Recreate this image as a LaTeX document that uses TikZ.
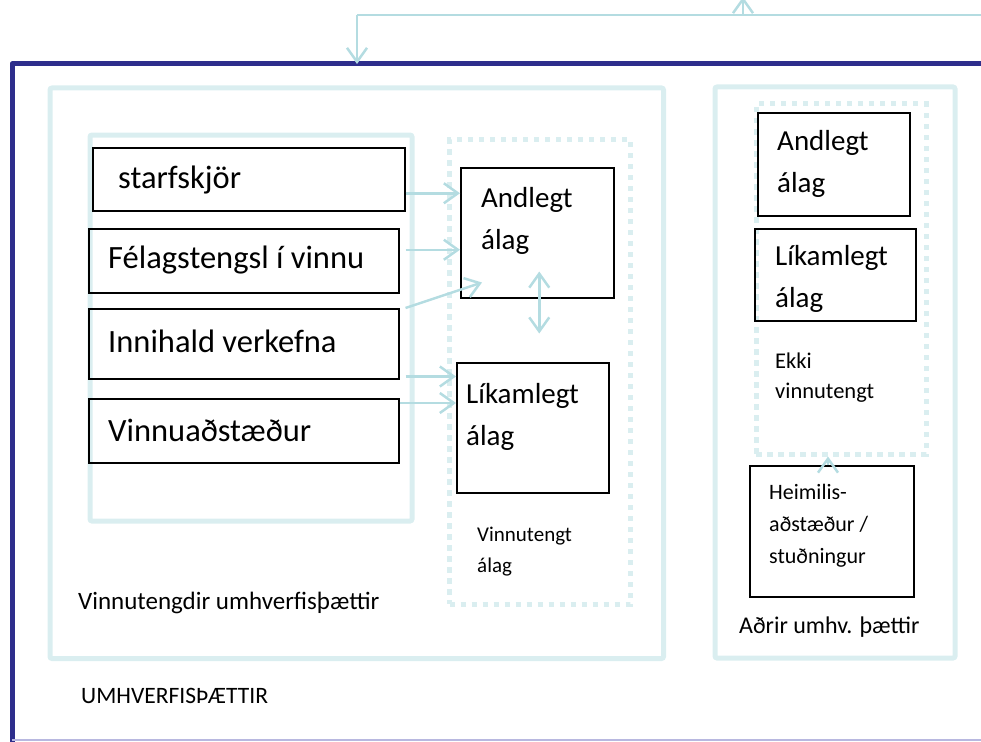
\documentclass[tikz,border=0pt]{standalone}
\usepackage{fontspec}
\setmainfont{Carlito}
\usetikzlibrary{arrows.meta,calc}
\definecolor{frameblue}{HTML}{2E2E8C}
\definecolor{lightbox}{HTML}{DAEEF0}
\definecolor{arrowc}{HTML}{B4DCE1}
\definecolor{lav}{HTML}{B8B8E0}
\begin{document}
\begin{tikzpicture}[x=1pt,y=-1pt,
  bbox/.style={draw=black, line width=1.5pt, anchor=north west, inner sep=0pt},
  cont/.style={draw=lightbox, line width=5pt, anchor=north west, inner sep=0pt, rounded corners=2pt},
  dotbox/.style={draw=lightbox, line width=5pt, dash pattern=on 5.5pt off 5.5pt, anchor=north west, inner sep=0pt},
  lab/.style={font=\fontsize{32.5}{42}\selectfont, align=left, anchor=west, inner sep=0pt},
  big/.style={font=\fontsize{29}{42}\selectfont, align=left, anchor=west, inner sep=0pt},
  small/.style={font=\fontsize{21}{31}\selectfont, align=left, anchor=west, inner sep=0pt},
  arr/.style={draw=arrowc, line width=2.5pt, -{Straight Barb[length=14pt,width=20pt]}},
  darr/.style={draw=arrowc, line width=2.5pt, {Straight Barb[length=14pt,width=20pt]}-{Straight Barb[length=14pt,width=20pt]}}
]
\useasboundingbox (0,0) rectangle (981,741);
\clip (0,0) rectangle (981,741);

% outer frame
\coordinate (fbl) at (12,745);
\coordinate (ftl) at (12,64);
\coordinate (ftr) at (995,64);
\coordinate (fbr) at (995,740);
\coordinate (fblb) at (12,740);
\draw[frameblue, line width=5pt, line join=round] (fbl) -- (ftl) -- (ftr);
\draw[lav, line width=1.5pt] (fblb) -- (fbr);

% containers
\node[cont, minimum width=613.5pt, minimum height=570.5pt] (cL) at (47.5,85.5) {};
\node[cont, minimum width=322pt, minimum height=386pt] (cI) at (87.5,132.5) {};
\node[dotbox, minimum width=181pt, minimum height=464.5pt] (dL) at (447,137) {};
\node[cont, minimum width=240pt, minimum height=571pt] (cR) at (712.5,84.5) {};
\node[dotbox, minimum width=170pt, minimum height=350pt] (dR) at (753.5,101.5) {};

% left black boxes
\node[bbox, minimum width=312pt, minimum height=63pt] (sk) at (92,147) {};
\node[bbox, minimum width=310pt, minimum height=64pt] (fe) at (88,228) {};
\node[bbox, minimum width=310pt, minimum height=70pt] (ih) at (88,308) {};
\node[bbox, minimum width=310pt, minimum height=64pt] (vi) at (88,398) {};
\node[bbox, minimum width=153pt, minimum height=130pt] (a1) at (460,167) {};
\node[bbox, minimum width=152pt, minimum height=130pt] (l1) at (456,362) {};

% right black boxes
\node[bbox, minimum width=152pt, minimum height=103pt] (a2) at (757,112) {};
\node[bbox, minimum width=161pt, minimum height=92pt] (l2) at (754,228) {};
\node[bbox, minimum width=164pt, minimum height=131pt] (hm) at (749,465) {};

% texts
\node[lab] (t1) at (118,180) {starfskjör};
\node[lab] (t2) at (108,260) {Félagstengsl í vinnu};
\node[lab] (t3) at (108,341) {Innihald verkefna};
\node[lab] (t4) at (108,430) {Vinnuaðstæður};
\node[big] (t5) at (481,221) {Andlegt\\álag};
\node[big] (t6) at (466,417) {Líkamlegt\\álag};
\node[small] (t7) at (477,552) {Vinnutengt\\álag};
\node[small, font=\fontsize{25}{31}\selectfont] (t8) at (78,603) {Vinnutengdir umhverfisþættir};
\node[small, font=\fontsize{23.5}{31}\selectfont] (t9) at (81,696) {UMHVERFISÞÆTTIR};
\node[big] (t10) at (777,164) {Andlegt\\álag};
\node[big] (t11) at (775,279) {Líkamlegt\\álag};
\node[small, font=\fontsize{22.5}{30}\selectfont] (t12) at (775,378) {Ekki\\vinnutengt};
\node[small, font=\fontsize{22}{32}\selectfont] (t13) at (769,526) {Heimilis-\\aðstæður /\\stuðningur};
\node[small, font=\fontsize{24}{31}\selectfont] (t14) at (739,627) {Aðrir umhv. þættir};

% connectors
\draw[arr] ([yshift=-14pt]sk.east) -- ([yshift=-14pt]sk.east -| a1.west);
\draw[arr] ([xshift=6pt,yshift=11pt]fe.east) -- ([yshift=11pt]fe.east -| a1.west);
\draw[arr] ([xshift=6pt]ih.north east) -- ([xshift=22pt,yshift=16pt]a1.south west);
\draw[arr] ([xshift=6pt,yshift=3pt]ih.south east) -- ([yshift=3pt]ih.south east -| l1.west);
\draw[arr] ([yshift=-5pt]vi.north east) -- ([yshift=-5pt]vi.north east -| l1.west);
\coordinate (dt) at ([xshift=2pt,yshift=27pt]a1.south);
\coordinate (db) at ([xshift=2pt,yshift=-35pt]a1.south);
\draw[darr] (dt) -- (db);
\draw[arr] (hm.north -| 828,0) -- (dR.south -| 828,0);

% top connectors
\coordinate (hr) at (995,15);
\coordinate (hl) at (357,15);
\coordinate (hu) at (743,15);
\coordinate (hutip) at (743,-3);
\draw[draw=arrowc, line width=2.5pt] (hr) -- (hl);
\draw[arr] (hl) -- (hl |- ftl);
\draw[arr] (hu) -- (hutip);
\end{tikzpicture}
\end{document}
